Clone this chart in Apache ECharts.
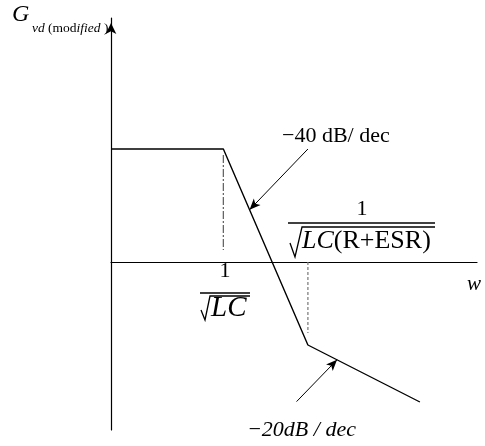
<!DOCTYPE html>
<html>
<head>
<meta charset="utf-8">
<script src="https://cdn.jsdelivr.net/npm/echarts@6/dist/echarts.min.js"></script>
<style>
  html, body { margin: 0; padding: 0; background: #fff; }
  #chart { width: 485px; height: 446px; }
</style>
</head>
<body>
<div id="chart"></div>
<script>
// Asymptotic magnitude sketch of the modified control-to-output transfer function.
// Horizontal: log frequency (schematic units); vertical: gain in dB (schematic).
const omega = [0, 3.07, 5.38, 8.44];          // breakpoints along log w
const gainDb = [28.25, 28.25, -20.75, -35];    // asymptote gain at each breakpoint

// Dashed drop lines at the two corner frequencies
const guideTop = [26.75, 0];
const guideBottom = [3, -17.75];

// Slope callouts: text, tail point, and where the arrow lands along the asymptote
const slopeNotes = ['\u221240 dB/ dec', '\u221220dB / dec'];
const arrowTail = [[5.38, 28.25], [5.07, -34.9]];
const arrowAlong = [0.31, 0.26];               // fraction along segment 1 and segment 2

const FONT = '"Liberation Serif", "Times New Roman", serif';

const asymptote = omega.map((w, i) => [w, gainDb[i]]);

function lerpPt(a, b, t) {
  return [a[0] + (b[0] - a[0]) * t, a[1] + (b[1] - a[1]) * t];
}
const arrowTip = [
  lerpPt(asymptote[1], asymptote[2], arrowAlong[0]),
  lerpPt(asymptote[2], asymptote[3], arrowAlong[1])
];

const chart = echarts.init(document.getElementById('chart'), null, { renderer: 'canvas' });

const noAxisDecor = {
  axisTick: { show: false },
  axisLabel: { show: false },
  splitLine: { show: false }
};

chart.setOption({
  animation: false,
  backgroundColor: '#fff',
  grid: { left: 111, right: 8, top: 18, bottom: 16, containLabel: false },
  xAxis: Object.assign({
    type: 'value', min: 0, max: 10,
    axisLine: { show: true, onZero: true, lineStyle: { color: '#000', width: 1.2 } }
  }, noAxisDecor),
  yAxis: Object.assign({
    type: 'value', min: -42, max: 61,
    axisLine: {
      show: true, onZero: true,
      symbol: ['none', 'arrow'], symbolSize: [8, 11], symbolOffset: [0, -5],
      lineStyle: { color: '#000', width: 1.2 }
    }
  }, noAxisDecor),
  series: [
    {
      name: 'asymptote', type: 'line', data: asymptote,
      symbol: 'none', silent: true,
      lineStyle: { color: '#000', width: 1.4 }
    },
    {
      name: 'guide1', type: 'line',
      data: [[omega[1], guideTop[0]], [omega[1], guideBottom[0]]],
      symbol: 'none', silent: true,
      lineStyle: { color: '#666', width: 1.3, type: [8, 2, 2, 2] }
    },
    {
      name: 'guide2', type: 'line',
      data: [[omega[2], guideTop[1]], [omega[2], guideBottom[1]]],
      symbol: 'none', silent: true,
      lineStyle: { color: '#777', width: 1.2, type: [3, 2] }
    },
    {
      name: 'callouts', type: 'line', data: [], symbol: 'none', silent: true,
      markLine: {
        silent: true, animation: false,
        symbol: ['none', 'arrow'], symbolSize: [7, 11],
        label: { show: false },
        lineStyle: { color: '#000', width: 1, type: 'solid' },
        data: arrowTail.map((p, i) => [{ coord: p }, { coord: arrowTip[i] }])
      }
    }
  ],
  graphic: [
    // vertical axis title
    { type: 'text', x: 12, y: 15, style: { text: 'G', font: 'italic 24px ' + FONT, fill: '#000', textAlign: 'left', textVerticalAlign: 'middle' } },
    { type: 'text', x: 32, y: 28, style: {
        text: '{i|vd}{n| (mod}{i|ified}{n| )}',
        fill: '#000', textAlign: 'left', textVerticalAlign: 'middle',
        rich: {
          i: { fontFamily: FONT, fontStyle: 'italic', fontSize: 13.5, fill: '#000' },
          n: { fontFamily: FONT, fontSize: 13.5, fill: '#000' }
        }
    } },
    // slope notes
    { type: 'text', x: 282, y: 136, style: { text: slopeNotes[0], font: '22px ' + FONT, fill: '#000', textAlign: 'left', textVerticalAlign: 'middle' } },
    { type: 'text', x: 247, y: 430, style: { text: slopeNotes[1], font: 'italic 22px ' + FONT, fill: '#000', textAlign: 'left', textVerticalAlign: 'middle' } },
    // frequency axis name
    { type: 'text', x: 467, y: 284, style: { text: 'w', font: 'italic 21px ' + FONT, fill: '#000', textAlign: 'left', textVerticalAlign: 'middle' } },

    // corner 1: 1/sqrt(LC)
    { type: 'text', x: 225, y: 271, style: { text: '1', font: '22px ' + FONT, fill: '#000', textAlign: 'center', textVerticalAlign: 'middle' } },
    { type: 'line', shape: { x1: 200, y1: 293, x2: 250, y2: 293 }, style: { stroke: '#000', lineWidth: 1.5 } },
    { type: 'polyline', shape: { points: [[201, 310], [205, 320], [210, 296], [250, 296]] }, style: { stroke: '#000', lineWidth: 1.3, fill: null } },
    { type: 'text', x: 211, y: 308, style: { text: 'LC', font: 'italic 29px ' + FONT, fill: '#000', textAlign: 'left', textVerticalAlign: 'middle' } },

    // corner 2: 1/sqrt(LC(R+ESR))
    { type: 'text', x: 362, y: 209, style: { text: '1', font: '22px ' + FONT, fill: '#000', textAlign: 'center', textVerticalAlign: 'middle' } },
    { type: 'line', shape: { x1: 288, y1: 223, x2: 435, y2: 223 }, style: { stroke: '#000', lineWidth: 1.5 } },
    { type: 'polyline', shape: { points: [[290, 243], [295, 257], [302, 227], [435, 227]] }, style: { stroke: '#000', lineWidth: 1.3, fill: null } },
    { type: 'text', x: 302, y: 241, style: {
        text: '{i|LC}{n|(R+ESR)}',
        fill: '#000', textAlign: 'left', textVerticalAlign: 'middle',
        rich: {
          i: { fontFamily: FONT, fontStyle: 'italic', fontSize: 26, fill: '#000' },
          n: { fontFamily: FONT, fontSize: 26, fill: '#000' }
        }
    } }
  ]
});
</script>
</body>
</html>
